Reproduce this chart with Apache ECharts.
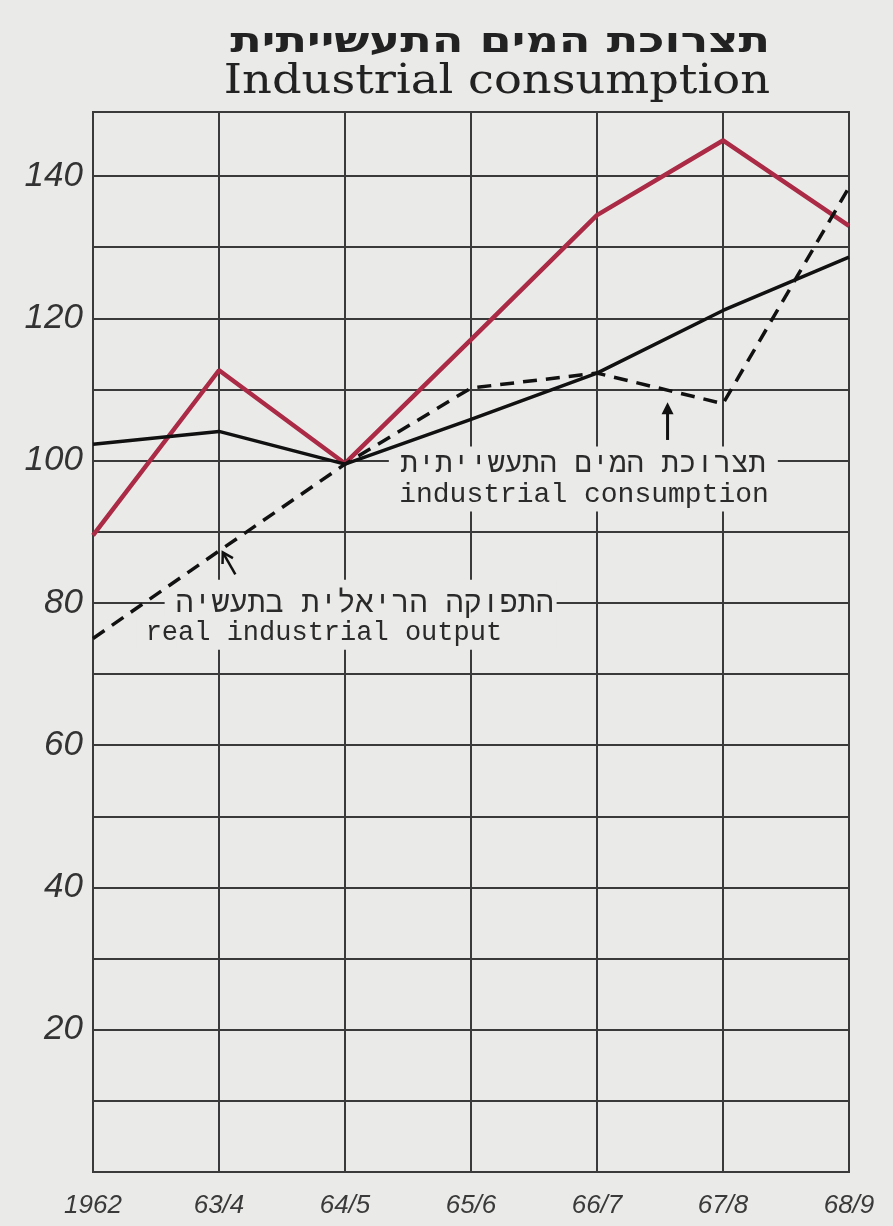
<!DOCTYPE html>
<html><head><meta charset="utf-8">
<script src="https://cdn.jsdelivr.net/npm/echarts@6/dist/echarts.min.js"></script>
<style>html,body{margin:0;padding:0;background:#eaeae8;}#c{width:893px;height:1226px;}</style>
</head><body><div id="c"></div>
<script>
const categories = ['1962', '63/4', '64/5', '65/6', '66/7', '67/8', '68/9'];
const redLine = [89.5, 112.7, 99.6, 117, 134.5, 145, 133];
const solidLine = [102.3, 104.1, 99.5, 105.8, 112.3, 121.1, 128.6];
const dashedLine = [75, 87.3, 99.5, 110.2, 112.3, 108, 138.4];
const yTicks = [20, 40, 60, 80, 100, 120, 140];
const titleHe = 'תצרוכת המים התעשייתית';
const titleEn = 'Industrial consumption';
const note1He = 'תצרוכת המים התעשייתית';
const note1En = 'industrial consumption';
const note2He = 'התפוקה הריאלית בתעשיה';
const note2En = 'real industrial output';

const BG = '#eaeae8';
const GRID = '#3a3a3a';
const pairs = arr => arr.map((v, i) => [i, v]);

const chart = echarts.init(document.getElementById('c'), null, {renderer: 'canvas'});
chart.setOption({
  backgroundColor: BG,
  animation: false,
  grid: {left: 93, right: 44, top: 112, bottom: 54, show: true, borderColor: GRID, borderWidth: 2, backgroundColor: 'transparent'},
  xAxis: {
    type: 'value', min: 0, max: 6, interval: 1,
    axisLine: {show: false}, axisTick: {show: false},
    splitLine: {show: true, lineStyle: {color: GRID, width: 2}},
    axisLabel: {
      margin: 21, fontSize: 26, fontStyle: 'italic', color: '#3a3a3a',
      fontFamily: "'Liberation Sans Narrow', 'Liberation Sans'",
      formatter: v => categories[v] || ''
    }
  },
  yAxis: {
    type: 'value', min: 0, max: 149, interval: 10,
    axisLine: {show: false}, axisTick: {show: false},
    splitLine: {show: true, lineStyle: {color: GRID, width: 2}},
    axisLabel: {
      margin: 10, fontSize: 35, fontStyle: 'italic', color: '#333',
      fontFamily: "'Liberation Sans', 'DejaVu Sans'",
      formatter: v => yTicks.indexOf(v) >= 0 ? String(v) : ''
    }
  },
  series: [
    {type: 'line', data: pairs(redLine), symbol: 'none', z: 3,
     lineStyle: {color: '#ab2a45', width: 4.5}},
    {type: 'line', data: pairs(solidLine), symbol: 'none', z: 4,
     lineStyle: {color: '#111', width: 3.5}},
    {type: 'line', data: pairs(dashedLine), symbol: 'none', z: 5,
     lineStyle: {color: '#111', width: 3.5, type: [14, 9]}}
  ]
});

function P(x, y) { return chart.convertToPixel({gridIndex: 0}, [x, y]); }
const monoFont = "'Liberation Mono', 'DejaVu Sans Mono', monospace";

const a1 = P(5.34, 100);
const a2 = P(3.64, 80);
const arr1Tail = P(4.56, 102.9), arr1Head = P(4.56, 108.2);
const arr2Tail = P(1.13, 84.0), arr2Head = P(1.03, 87.1);

function arrowHead(tail, head, size, w) {
  const dx = head[0] - tail[0], dy = head[1] - tail[1];
  const L = Math.hypot(dx, dy), ux = dx / L, uy = dy / L;
  const bx = head[0] - ux * size, by = head[1] - uy * size;
  return [[bx - uy * w, by + ux * w], head, [bx + uy * w, by - ux * w]];
}

chart.setOption({
  graphic: [
    // titles
    {type: 'text', z: 6, x: 770, y: 43, scaleX: 1.36, originX: 0, originY: 0,
     style: {text: titleHe, font: "bold 34px 'DejaVu Sans', 'Liberation Sans'", fill: '#222', align: 'right', verticalAlign: 'middle'}},
    {type: 'text', z: 6, x: 770, y: 82, scaleX: 1.13, originX: 0, originY: 0,
     style: {text: titleEn, font: "41px 'DejaVu Serif', 'Liberation Serif'", fill: '#222', align: 'right', verticalAlign: 'middle'}},
    // annotation 1
    {type: 'rect', z: 1, shape: {x: a1[0] - 377, y: a1[1] - 14, width: 389, height: 65}, style: {fill: BG}},
    {type: 'text', z: 6, x: a1[0], y: a1[1] + 4, style: {text: note1He, font: "29px " + monoFont, fill: '#2a2a2a', align: 'right', verticalAlign: 'middle'}},
    {type: 'text', z: 6, x: a1[0] + 3, y: a1[1] + 34, style: {text: note1En, font: "28px " + monoFont, fill: '#2a2a2a', align: 'right', verticalAlign: 'middle'}},
    // annotation 2
    {type: 'rect', z: 1, shape: {x: a2[0] - 387, y: a2[1] - 23, width: 392, height: 70}, style: {fill: BG}},
    {type: 'rect', z: 1, shape: {x: a2[0] - 415, y: a2[1] + 13, width: 40, height: 34}, style: {fill: BG}},
    {type: 'text', z: 6, x: a2[0] + 2, y: a2[1] + 1, style: {text: note2He, font: "30px " + monoFont, fill: '#2a2a2a', align: 'right', verticalAlign: 'middle'}},
    {type: 'text', z: 6, x: a2[0] - 406, y: a2[1] + 30, style: {text: note2En, font: "27px " + monoFont, fill: '#2a2a2a', align: 'left', verticalAlign: 'middle'}},
    // arrows
    {type: 'line', z: 6, shape: {x1: arr1Tail[0], y1: arr1Tail[1], x2: arr1Head[0], y2: arr1Head[1] + 6}, style: {stroke: '#111', lineWidth: 3}},
    {type: 'polygon', z: 6, shape: {points: arrowHead(arr1Tail, arr1Head, 12, 6)}, style: {fill: '#111'}},
    {type: 'line', z: 6, shape: {x1: arr2Tail[0], y1: arr2Tail[1], x2: arr2Head[0], y2: arr2Head[1]}, style: {stroke: '#111', lineWidth: 2.5}},
    {type: 'polyline', z: 6, shape: {points: arrowHead(arr2Tail, arr2Head, 10, 6)}, style: {stroke: '#111', lineWidth: 2.5, fill: null}}
  ]
});
</script>
</body></html>
